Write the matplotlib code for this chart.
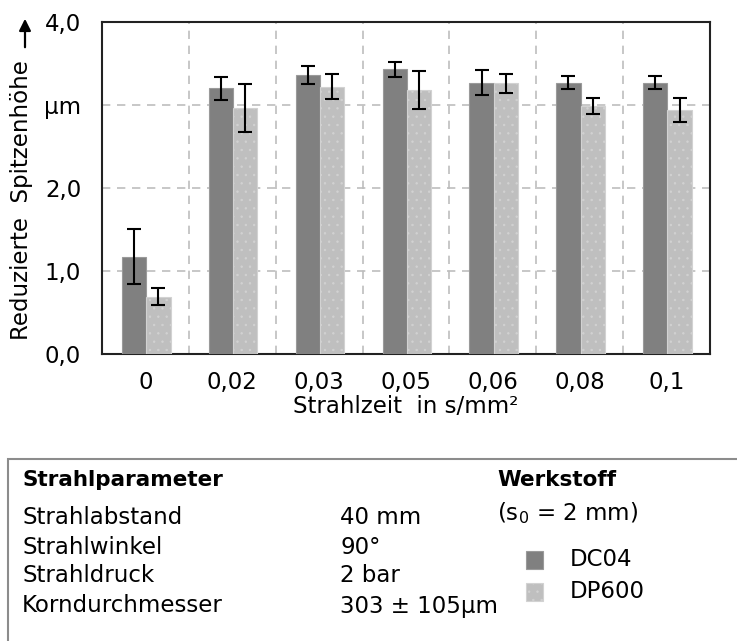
import numpy as np
import matplotlib
matplotlib.use("Agg")
import matplotlib.pyplot as plt
from matplotlib.patches import Rectangle, FancyArrowPatch

# Strahlzeit-Stufen und gemessene Spitzenhoehen (Mittelwert +/- Streuung)
categories = ["0", "0,02", "0,03", "0,05", "0,06", "0,08", "0,1"]
dc04 = [1.17, 3.20, 3.36, 3.43, 3.27, 3.27, 3.27]
dc04_err = [0.33, 0.14, 0.11, 0.09, 0.15, 0.08, 0.08]
dp600 = [0.69, 2.96, 3.22, 3.18, 3.26, 2.99, 2.94]
dp600_err = [0.10, 0.29, 0.15, 0.23, 0.11, 0.10, 0.14]

y_ticks = [0, 1, 2, 3, 4]
y_ticklabels = ["0,0", "1,0", "2,0", "µm", "4,0"]

param_names = ["Strahlabstand", "Strahlwinkel", "Strahldruck", "Korndurchmesser"]
param_values = ["40 mm", "90°", "2 bar", "303 ± 105µm"]
materials = ["DC04", "DP600"]

C_DC04 = "#808080"
C_DP600 = "#bfbfbf"
FS = 16.5

plt.rcParams["font.family"] = "DejaVu Sans"
plt.rcParams["hatch.linewidth"] = 0.5

W, H = 737, 641
fig = plt.figure(figsize=(W / 100, H / 100), dpi=100)

def fx(px):
    return px / W

def fy(py):
    return 1 - py / H

ax = fig.add_axes([fx(102), fy(354), fx(710) - fx(102), fy(22) - fy(354)])

x = np.arange(len(categories))
bw = 0.28
err_kw = dict(ecolor="black", elinewidth=1.5, capsize=5, capthick=1.5)

ax.bar(x - 0.13, dc04, bw, yerr=dc04_err, color=C_DC04,
       edgecolor="#9a9a9a", linewidth=0.8, error_kw=err_kw, zorder=3)
ax.bar(x + 0.15, dp600, bw, yerr=dp600_err, color=C_DP600,
       edgecolor="#d2d2d2", linewidth=0.8, hatch="..", error_kw=err_kw, zorder=3)

ax.set_xlim(-0.5, len(categories) - 0.5)
ax.set_ylim(0, 4)
ax.set_xticks(x)
ax.set_xticklabels(categories, fontsize=FS)
ax.set_yticks(y_ticks)
ax.set_yticklabels(y_ticklabels, fontsize=FS)
ax.tick_params(length=0)
ax.tick_params(axis="x", pad=12)
ax.tick_params(axis="y", pad=15)

# gestrichelte Gitterlinien zwischen den Gruppen und bei den y-Werten
for b in np.arange(0.5, len(categories) - 0.5, 1.0):
    ax.axvline(b, color="#bdbdbd", lw=1.2, ls=(0, (5, 4)), zorder=1)
for yv in [1, 2, 3]:
    ax.axhline(yv, color="#bdbdbd", lw=1.2, ls=(0, (5, 4)), zorder=1)

for s in ax.spines.values():
    s.set_linewidth(1.5)
    s.set_color("#222222")

ax.set_xlabel("Strahlzeit  in s/mm²", fontsize=FS, labelpad=1)

# y-Achsenbeschriftung mit Pfeil
fig.text(fx(22), fy(200), "Reduzierte  Spitzenhöhe", rotation=90,
         ha="center", va="center", fontsize=FS)
fig.add_artist(FancyArrowPatch(
    (fx(25), fy(50)), (fx(25), fy(16)), transform=fig.transFigure,
    arrowstyle="-|>,head_length=7,head_width=3.5", color="black", lw=1.6))

# Parameterkasten unten
fig.add_artist(Rectangle((fx(8), fy(459) - 1), 1.2, 1, transform=fig.transFigure,
                         fill=False, edgecolor="#8c8c8c", lw=1.5, clip_on=False))

fig.text(fx(22), fy(480), "Strahlparameter", fontsize=15.5, fontweight="bold",
         ha="left", va="center")
rows_y = [518, 548, 576, 606]
for name, val, ry in zip(param_names, param_values, rows_y):
    fig.text(fx(22), fy(ry), name, fontsize=FS, ha="left", va="center")
    fig.text(fx(340), fy(ry), val, fontsize=FS, ha="left", va="center")

fig.text(fx(497), fy(480), "Werkstoff", fontsize=15.5, fontweight="bold",
         ha="left", va="center")
fig.text(fx(497), fy(513), "(s$_0$ = 2 mm)", fontsize=FS, ha="left", va="center")

for mat, col, ry, hatch, ec in zip(materials, [C_DC04, C_DP600], [560, 592],
                                   [None, ".."], ["#9a9a9a", "#d2d2d2"]):
    fig.add_artist(Rectangle((fx(526), fy(ry + 9)), fx(17), 18 / H,
                             transform=fig.transFigure, facecolor=col,
                             edgecolor=ec, lw=0.8, hatch=hatch))
    fig.text(fx(570), fy(ry), mat, fontsize=FS, ha="left", va="center")

fig.savefig("out.png", dpi=100)
